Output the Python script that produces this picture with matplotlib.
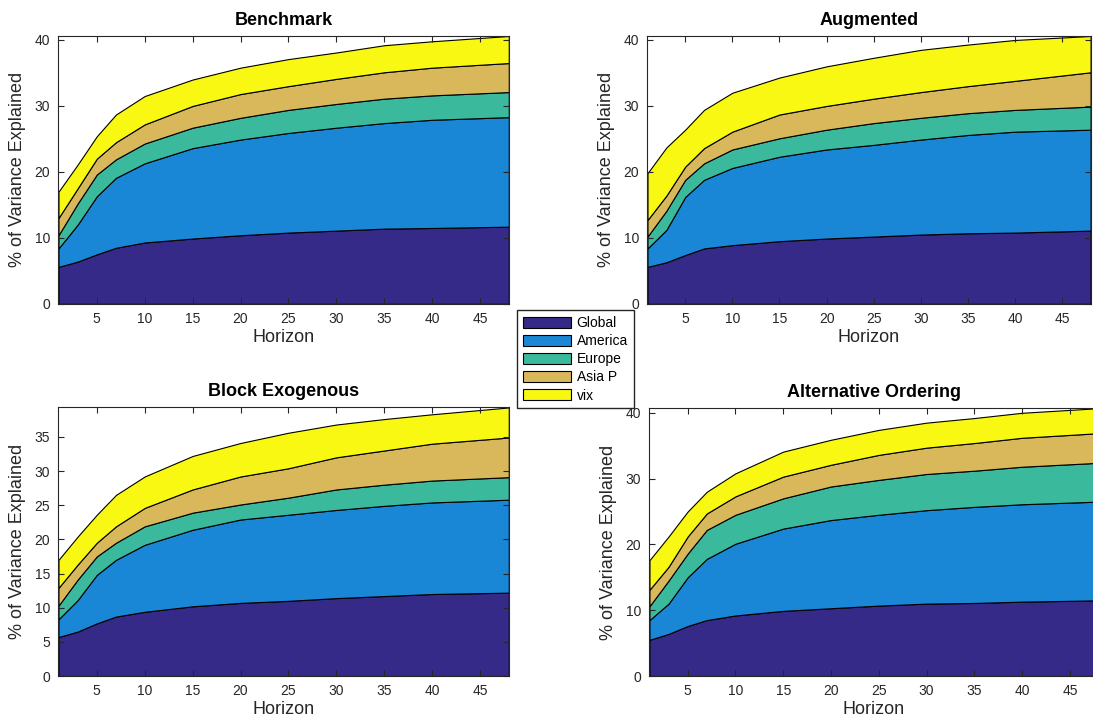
import numpy as np
import matplotlib
matplotlib.use('Agg')
import matplotlib.pyplot as plt
from matplotlib.patches import Patch

plt.rcParams['font.family'] = ['Liberation Sans', 'DejaVu Sans']

horizon = [1, 3, 5, 7, 10, 15, 20, 25, 30, 35, 40, 48]
regions = ['Global', 'America', 'Europe', 'Asia P', 'vix']
colors = ['#352A87', '#1A86D6', '#3BB99C', '#D9B85C', '#F8F812']

# share of variance explained by each block, per horizon
bench_global = [5.6, 6.4, 7.5, 8.5, 9.3, 9.9, 10.4, 10.8, 11.1, 11.4, 11.5, 11.7]
bench_america = [2.8, 5.6, 8.8, 10.6, 12.0, 13.7, 14.5, 15.1, 15.6, 16.0, 16.4, 16.6]
bench_europe = [2.0, 3.2, 3.3, 2.8, 3.0, 3.1, 3.3, 3.5, 3.6, 3.7, 3.7, 3.8]
bench_asia = [2.6, 2.3, 2.4, 2.6, 2.9, 3.3, 3.6, 3.6, 3.8, 4.0, 4.2, 4.4]
bench_vix = [4.0, 3.6, 3.4, 4.2, 4.3, 4.0, 4.0, 4.1, 4.0, 4.1, 4.0, 4.1]

aug_global = [5.6, 6.3, 7.4, 8.4, 8.9, 9.5, 9.9, 10.2, 10.5, 10.7, 10.8, 11.1]
aug_america = [2.8, 4.9, 8.8, 10.4, 11.7, 12.8, 13.5, 13.9, 14.4, 14.9, 15.3, 15.3]
aug_europe = [1.8, 2.9, 2.6, 2.5, 2.8, 2.8, 3.0, 3.3, 3.3, 3.3, 3.3, 3.5]
aug_asia = [2.5, 2.3, 2.0, 2.3, 2.7, 3.6, 3.6, 3.7, 3.9, 4.1, 4.4, 5.2]
aug_vix = [7.1, 7.3, 5.6, 5.8, 5.9, 5.6, 6.0, 6.2, 6.4, 6.3, 6.2, 5.5]

blk_global = [5.7, 6.5, 7.7, 8.7, 9.4, 10.2, 10.7, 11.0, 11.4, 11.7, 12.0, 12.2]
blk_america = [2.6, 4.6, 7.1, 8.3, 9.8, 11.2, 12.2, 12.6, 12.9, 13.2, 13.4, 13.6]
blk_europe = [2.0, 3.0, 2.7, 2.5, 2.7, 2.5, 2.2, 2.5, 3.0, 3.1, 3.2, 3.3]
blk_asia = [2.6, 2.2, 2.0, 2.4, 2.7, 3.4, 4.1, 4.3, 4.7, 5.0, 5.4, 5.8]
blk_vix = [4.1, 4.1, 4.1, 4.6, 4.6, 4.9, 4.9, 5.2, 4.8, 4.6, 4.3, 4.4]

alt_global = [5.5, 6.4, 7.6, 8.5, 9.2, 9.9, 10.3, 10.7, 11.0, 11.1, 11.3, 11.5]
alt_america = [3.0, 4.6, 7.4, 9.3, 10.9, 12.5, 13.4, 13.8, 14.2, 14.6, 14.8, 15.0]
alt_europe = [2.1, 3.5, 3.6, 4.4, 4.4, 4.6, 5.1, 5.3, 5.5, 5.5, 5.7, 5.9]
alt_asia = [2.5, 2.1, 2.6, 2.5, 2.8, 3.3, 3.3, 3.8, 4.0, 4.2, 4.4, 4.5]
alt_vix = [4.5, 4.6, 3.8, 3.3, 3.5, 3.8, 3.8, 3.8, 3.8, 3.8, 3.8, 3.8]

panels = [
    ('Benchmark', [bench_global, bench_america, bench_europe, bench_asia, bench_vix],
     [0.0535, 0.578, 0.412, 0.372], np.arange(0, 41, 10)),
    ('Augmented', [aug_global, aug_america, aug_europe, aug_asia, aug_vix],
     [0.5924, 0.578, 0.4054, 0.372], np.arange(0, 41, 10)),
    ('Block Exogenous', [blk_global, blk_america, blk_europe, blk_asia, blk_vix],
     [0.0535, 0.0611, 0.412, 0.373], np.arange(0, 36, 5)),
    ('Alternative Ordering', [alt_global, alt_america, alt_europe, alt_asia, alt_vix],
     [0.5942, 0.0611, 0.4109, 0.372], np.arange(0, 41, 10)),
]

fig = plt.figure(figsize=(10.93, 7.2), dpi=100)

for title, series, pos, yticks in panels:
    ax = fig.add_axes(pos)
    ax.stackplot(horizon, series, colors=colors, edgecolor='black', linewidth=0.8)
    total = np.sum(series, axis=0)
    ax.set_xlim(1, 48)
    ax.set_ylim(0, total.max())
    ax.set_xticks(np.arange(5, 46, 5))
    ax.set_yticks(yticks)
    ax.tick_params(direction='in', top=True, right=True, length=4, width=0.8,
                   labelsize=10, pad=6, colors='#262626')
    for s in ax.spines.values():
        s.set_color('#262626')
        s.set_linewidth(0.8)
    ax.set_title(title, fontsize=13, fontweight='bold', pad=8)
    ax.set_xlabel('Horizon', fontsize=13, labelpad=2, color='#262626')
    ax.set_ylabel('% of Variance Explained', fontsize=13, labelpad=6, color='#262626')

handles = [Patch(facecolor=c, edgecolor='black', linewidth=0.8) for c in colors]
fig.legend(handles, regions, loc='upper left', bbox_to_anchor=(0.473, 0.569),
           borderaxespad=0, fontsize=10, handlelength=3.5, handleheight=0.85,
           labelspacing=0.3, handletextpad=0.4, borderpad=0.4, fancybox=False,
           framealpha=1, edgecolor='#262626')

fig.savefig('out.png', dpi=100)
